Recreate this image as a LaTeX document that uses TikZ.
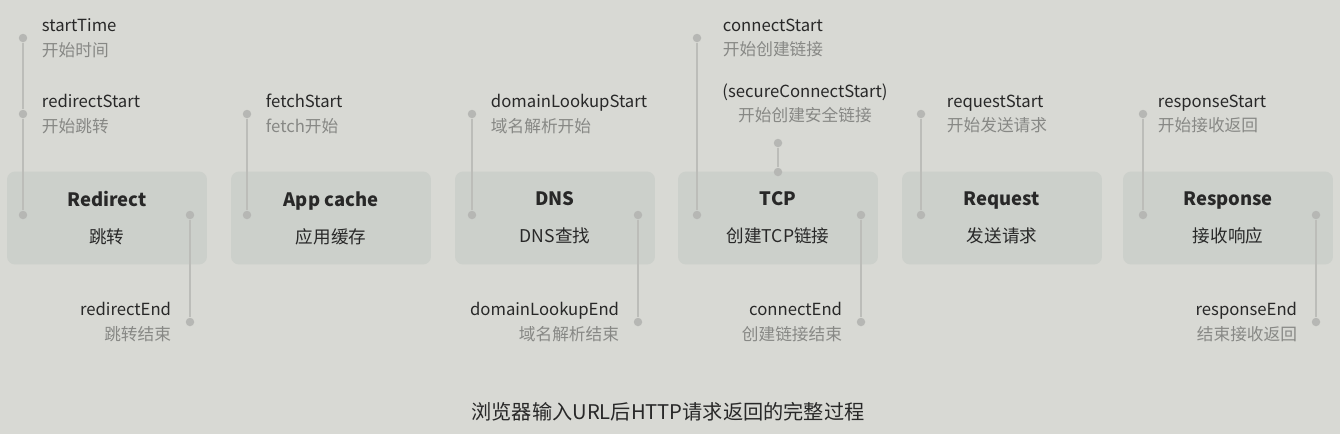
\documentclass[tikz,border=0pt]{standalone}
\usepackage{fontspec}
\setmainfont{Noto Sans CJK SC}
\usepackage{xcolor}
\usetikzlibrary{positioning}

\definecolor{bgcol}{RGB}{216,217,212}
\definecolor{boxcol}{RGB}{204,208,203}
\definecolor{linecol}{RGB}{188,189,185}
\definecolor{dotcol}{RGB}{182,183,180}
\definecolor{textcol}{RGB}{40,40,40}
\definecolor{subcol}{RGB}{135,136,133}

\newcommand{\evtext}[2]{#1\\\textcolor{subcol}{#2}}
\newcommand{\stagetext}[2]{{\fontsize{10.5}{12}\selectfont\bfseries #1}\\[9pt]#2}

\begin{document}
\begin{tikzpicture}[
    x=0.02cm, y=-0.02cm,
    node distance=0.28cm,
    stage/.style={rectangle, rounded corners=0.16cm, fill=boxcol, minimum width=4cm, minimum height=1.86cm, align=center, text=textcol, font=\fontsize{10}{12}\selectfont},
    dot/.style={circle, fill=dotcol, inner sep=0pt, minimum size=0.17cm},
    tick/.style={draw=linecol, line width=0.7pt},
    evt/.style={inner sep=0pt, align=left, text=textcol, font=\fontsize{9.5}{14}\selectfont},
    evtend/.style={evt, align=right}
]

% Background
\fill[bgcol] (0,0) rectangle (1340,434);
\useasboundingbox (0,0) rectangle (1340,434);

% Stages
\node[stage] (redirect) at (107,218) {\stagetext{Redirect}{跳转}};
\node[stage] (appcache) at (331,218) {\stagetext{App cache}{应用缓存}};
\node[stage] (dns) at (555,218) {\stagetext{DNS}{DNS查找}};
\node[stage] (tcp) at (778,218) {\stagetext{TCP}{创建TCP链接}};
\node[stage] (request) at (1002,218) {\stagetext{Request}{发送请求}};
\node[stage, minimum width=4.2cm] (response) at (1228,218) {\stagetext{Response}{接收响应}};

% Dots on the stages
\node[dot] (redirectL) at (23,215) {};
\node[dot] (redirectR) at (190,215) {};
\node[dot] (appcacheL) at (247,215) {};
\node[dot] (dnsL) at (472,215) {};
\node[dot] (dnsR) at (638,215) {};
\node[dot] (tcpL) at (697,215) {};
\node[dot] (tcpT) at (778,172) {};
\node[dot] (tcpR) at (861,215) {};
\node[dot] (requestL) at (921,215) {};
\node[dot] (responseL) at (1143,215) {};
\node[dot] (responseR) at (1316,215) {};

% Event dots
\node[dot] (starttime) at (23,38) {};
\node[dot] (redirectstart) at (23,114) {};
\node[dot] (fetchstart) at (247,114) {};
\node[dot] (lookupstart) at (472,114) {};
\node[dot] (connectstart) at (697,38) {};
\node[dot] (securestart) at (778,143) {};
\node[dot] (requeststart) at (921,114) {};
\node[dot] (responsestart) at (1143,114) {};
\node[dot] (redirectend) at (190,322) {};
\node[dot] (lookupend) at (638,322) {};
\node[dot] (connectend) at (861,322) {};
\node[dot] (responseend) at (1316,322) {};

% Event labels
\node[evt, right=of starttime] (starttimeT) {\evtext{startTime}{开始时间}};
\node[evt, right=of redirectstart] (redirectstartT) {\evtext{redirectStart}{开始跳转}};
\node[evt, right=of fetchstart] (fetchstartT) {\evtext{fetchStart}{fetch开始}};
\node[evt, right=of lookupstart] (lookupstartT) {\evtext{domainLookupStart}{域名解析开始}};
\node[evt, right=0.42cm of connectstart] (connectstartT) {\evtext{connectStart}{开始创建链接}};
\node[evt, align=center, above=0.3cm of securestart, xshift=0.54cm] (securestartT) {\evtext{(secureConnectStart)}{开始创建安全链接}};
\node[evt, right=0.42cm of requeststart] (requeststartT) {\evtext{requestStart}{开始发送请求}};
\node[evt, right=0.2cm of responsestart] (responsestartT) {\evtext{responseStart}{开始接收返回}};
\node[evtend, left=of redirectend] (redirectendT) {\evtext{redirectEnd}{跳转结束}};
\node[evtend, left=of lookupend] (lookupendT) {\evtext{domainLookupEnd}{域名解析结束}};
\node[evtend, left=of connectend] (connectendT) {\evtext{connectEnd}{创建链接结束}};
\node[evtend, left=of responseend] (responseendT) {\evtext{responseEnd}{结束接收返回}};

% Timelines
\draw[tick] (starttime) -- (redirectstart) -- (redirectL);
\draw[tick] (redirectR) -- (redirectend);
\draw[tick] (fetchstart) -- (appcacheL);
\draw[tick] (lookupstart) -- (dnsL);
\draw[tick] (dnsR) -- (lookupend);
\draw[tick] (connectstart) -- (tcpL);
\draw[tick] (securestart) -- (tcpT);
\draw[tick] (tcpR) -- (connectend);
\draw[tick] (requeststart) -- (requestL);
\draw[tick] (responsestart) -- (responseL);
\draw[tick] (responseR) -- (responseend);

% Caption
\node[text=textcol, font=\fontsize{11.5}{13}\selectfont] (caption) at (668,412) {浏览器输入URL后HTTP请求返回的完整过程};

\end{tikzpicture}
\end{document}
